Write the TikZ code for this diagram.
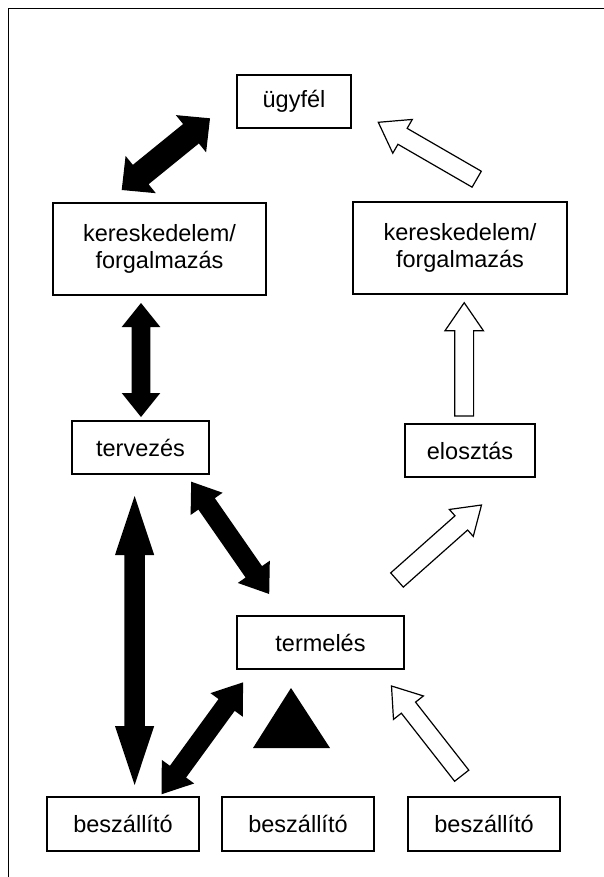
\documentclass[tikz,border=0pt]{standalone}
\usepackage{fontspec}
\setmainfont{Liberation Sans}
\usetikzlibrary{calc}

\tikzset{
  box/.style={draw, rectangle, line width=1.2pt, inner sep=0pt, align=center,
    font=\fontsize{23.5}{27}\selectfont},
  solidarrow/.style={fill=black},
  openarrow/.style={draw=black, fill=white, line width=1.2pt, line join=miter},
  frame/.style={line width=1.5pt}
}

% two headed block arrow: end, end, shaft half width, head half width, head length
\newcommand{\twoway}[5]{%
  \coordinate (ha) at ($(#1)!#5!(#2)$);
  \coordinate (hb) at ($(#2)!#5!(#1)$);
  \path[solidarrow] (#1) -- ($(ha)!#4!90:(#2)$) -- ($(ha)!#3!90:(#2)$)
    -- ($(hb)!#3!90:(#2)$) -- ($(hb)!#4!90:(#2)$) -- (#2)
    -- ($(hb)!#4!-90:(#2)$) -- ($(hb)!#3!-90:(#2)$)
    -- ($(ha)!#3!-90:(#2)$) -- ($(ha)!#4!-90:(#2)$) -- cycle;
}
% one headed hollow block arrow: tail, tip, shaft half width, head half width, head length
\newcommand{\oneway}[5]{%
  \coordinate (hb) at ($(#2)!#5!(#1)$);
  \path[openarrow] ($(#1)!#3!90:(#2)$) -- ($(hb)!#3!90:(#2)$) -- ($(hb)!#4!90:(#2)$)
    -- (#2) -- ($(hb)!#4!-90:(#2)$) -- ($(hb)!#3!-90:(#2)$)
    -- ($(#1)!#3!-90:(#2)$) -- cycle;
}

\begin{document}
\begin{tikzpicture}[x=1pt, y=-1pt]
\useasboundingbox (0,0) rectangle (603,877);
% the frame, cut off on the right and at the bottom
\draw[frame] (8.5,880) -- (8.5,8.5) -- (606,8.5);

% the boxes
\node[box, minimum width=114pt, minimum height=53pt] (ugyfel) at (294,101.5) {ügyfél};
\node[box, minimum width=213pt, minimum height=92pt] (kerL) at (159.5,249) {kereskedelem/\\forgalmazás};
\node[box, minimum width=214pt, minimum height=92pt] (kerR) at (460,248) {kereskedelem/\\forgalmazás};
\node[box, minimum width=137pt, minimum height=53pt] (terv) at (140.5,447.5) {tervezés};
\node[box, minimum width=130pt, minimum height=53pt] (eloszt) at (470,450.5) {elosztás};
\node[box, minimum width=167pt, minimum height=53pt] (termel) at (320.5,642.5) {termelés};
\foreach \n/\x in {1/123,2/298,3/484}
{
  \node[box, minimum width=152pt, minimum height=54pt] (besz\n) at (\x,824) {beszállító};
}

% ends of the arrows, they stop short of the boxes
\coordinate (a1) at (121.7,190);    \coordinate (a2) at (210,118.3);
\coordinate (b1) at (141,303);      \coordinate (b2) at (141,417);
\coordinate (c1) at (191.2,481.7);  \coordinate (c2) at (269.2,594);
\coordinate (d1) at (134.6,496);    \coordinate (d2) at (134.6,785);
\coordinate (e1) at (243.1,682.3);  \coordinate (e2) at (161.5,794.3);
\coordinate (f1) at (476.7,179.2);  \coordinate (f2) at (378.3,122.3);
\coordinate (g1) at (464.2,416);    \coordinate (g2) at (464.2,302.7);
\coordinate (h1) at (397,580);      \coordinate (h2) at (481.5,505);
\coordinate (i1) at (461.7,775.7);  \coordinate (i2) at (391.5,686);

% black two way arrows on the left
\twoway{a1}{a2}{12.5pt}{24pt}{24.5pt}
\twoway{b1}{b2}{9.3pt}{19.3pt}{24pt}
\twoway{c1}{c2}{10pt}{19.5pt}{27pt}
\twoway{d1}{d2}{10.2pt}{19.6pt}{59pt}
\twoway{e1}{e2}{10pt}{20pt}{28pt}
% white one way arrows on the right
\oneway{f1}{f2}{9.2pt}{19.5pt}{28pt}
\oneway{g1}{g2}{9.4pt}{19.2pt}{28pt}
\oneway{h1}{h2}{9.5pt}{18pt}{27pt}
\oneway{i1}{i2}{9pt}{19pt}{27.5pt}

% the triangle under termelés
\fill (253,748) -- (330,748) -- (291,688) -- cycle;
\end{tikzpicture}
\end{document}
